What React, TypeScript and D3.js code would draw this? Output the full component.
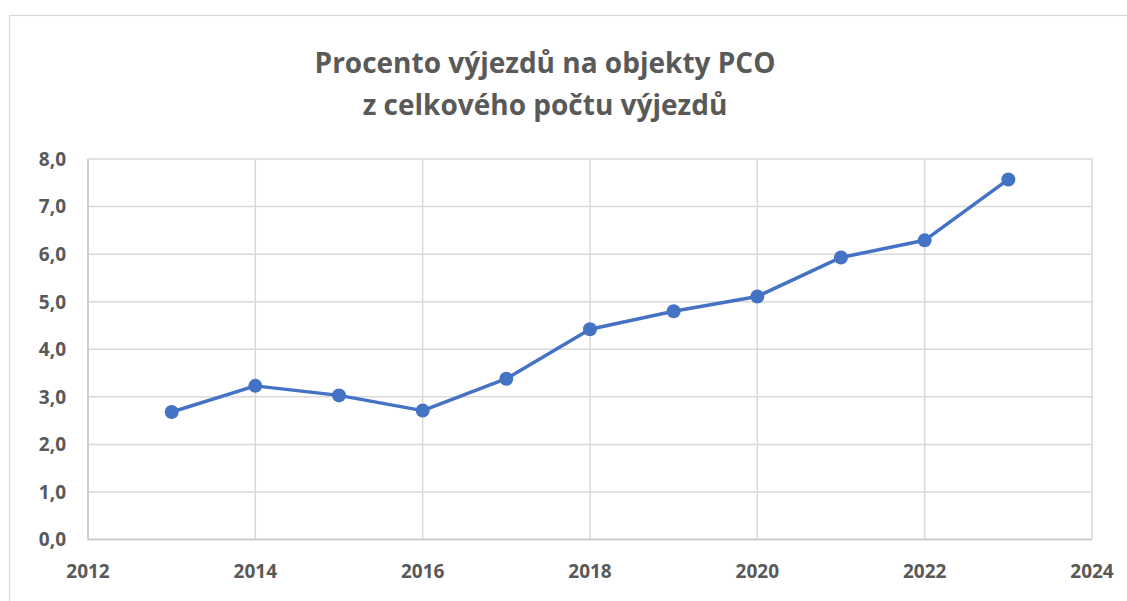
import React from "react";
import * as d3 from "d3";

const years = [2013, 2014, 2015, 2016, 2017, 2018, 2019, 2020, 2021, 2022, 2023];
const values = [2.68, 3.23, 3.03, 2.71, 3.38, 4.42, 4.8, 5.11, 5.93, 6.29, 7.57];
const xTicks = [2012, 2014, 2016, 2018, 2020, 2022, 2024];
const yTicks = [0, 1, 2, 3, 4, 5, 6, 7, 8];
const titleLines = ["Procento výjezdů na objekty PCO", "z celkového počtu výjezdů"];

const W = 1127;
const H = 601;
const M = { left: 88, right: 1092, top: 159, bottom: 539.5 };
const FONT = "'Open Sans', 'Liberation Sans', sans-serif";
const TEXT = "#595959";
const GRID = "#d9d9d9";
const BLUE = "#4472C4";

export default function App() {
  const x = d3.scaleLinear().domain([2012, 2024]).range([M.left, M.right]);
  const y = d3.scaleLinear().domain([0, 8]).range([M.bottom, M.top]);
  const line = d3
    .line<number>()
    .x((_, i) => x(years[i]))
    .y((d) => y(d));
  const fmt = (v: number) => v.toFixed(1).replace(".", ",");

  return (
    <svg
      width={W}
      height={H}
      style={{ position: "fixed", left: 0, top: 0, background: "#fff" }}
    >
      <rect x={0} y={0} width={W} height={H} fill="#fff" />
      <rect x={9.5} y={15.5} width={1300} height={700} fill="#fff" stroke={GRID} strokeWidth={1.2} />
      {titleLines.map((t, i) => (
        <text
          key={i}
          x={545}
          y={73 + i * 41.5}
          textAnchor="middle"
          fontFamily={FONT}
          fontWeight={700}
          fontSize={28}
          fill={TEXT}
        >
          {t}
        </text>
      ))}
      {yTicks.map((v) => (
        <line key={"gy" + v} x1={M.left} x2={M.right} y1={y(v)} y2={y(v)} stroke={GRID} strokeWidth={1.5} />
      ))}
      {xTicks.map((v) => (
        <line key={"gx" + v} x1={x(v)} x2={x(v)} y1={M.top} y2={M.bottom} stroke={GRID} strokeWidth={1.5} />
      ))}
      <line x1={M.left} x2={M.left} y1={M.top} y2={M.bottom} stroke="#c8c8c8" strokeWidth={1.5} />
      <line x1={M.left} x2={M.right} y1={M.bottom} y2={M.bottom} stroke="#c8c8c8" strokeWidth={1.5} />
      {yTicks.map((v) => (
        <text
          key={"ty" + v}
          x={66}
          y={y(v)}
          dy="0.36em"
          textAnchor="end"
          fontFamily={FONT}
          fontWeight={700}
          fontSize={19}
          fill={TEXT}
        >
          {fmt(v)}
        </text>
      ))}
      {xTicks.map((v) => (
        <text
          key={"tx" + v}
          x={x(v)}
          y={578}
          textAnchor="middle"
          fontFamily={FONT}
          fontWeight={700}
          fontSize={19}
          fill={TEXT}
        >
          {v}
        </text>
      ))}
      <path d={line(values) || ""} fill="none" stroke={BLUE} strokeWidth={3.5} strokeLinejoin="round" />
      {values.map((v, i) => (
        <circle key={"p" + i} cx={x(years[i])} cy={y(v)} r={7} fill={BLUE} />
      ))}
    </svg>
  );
}
